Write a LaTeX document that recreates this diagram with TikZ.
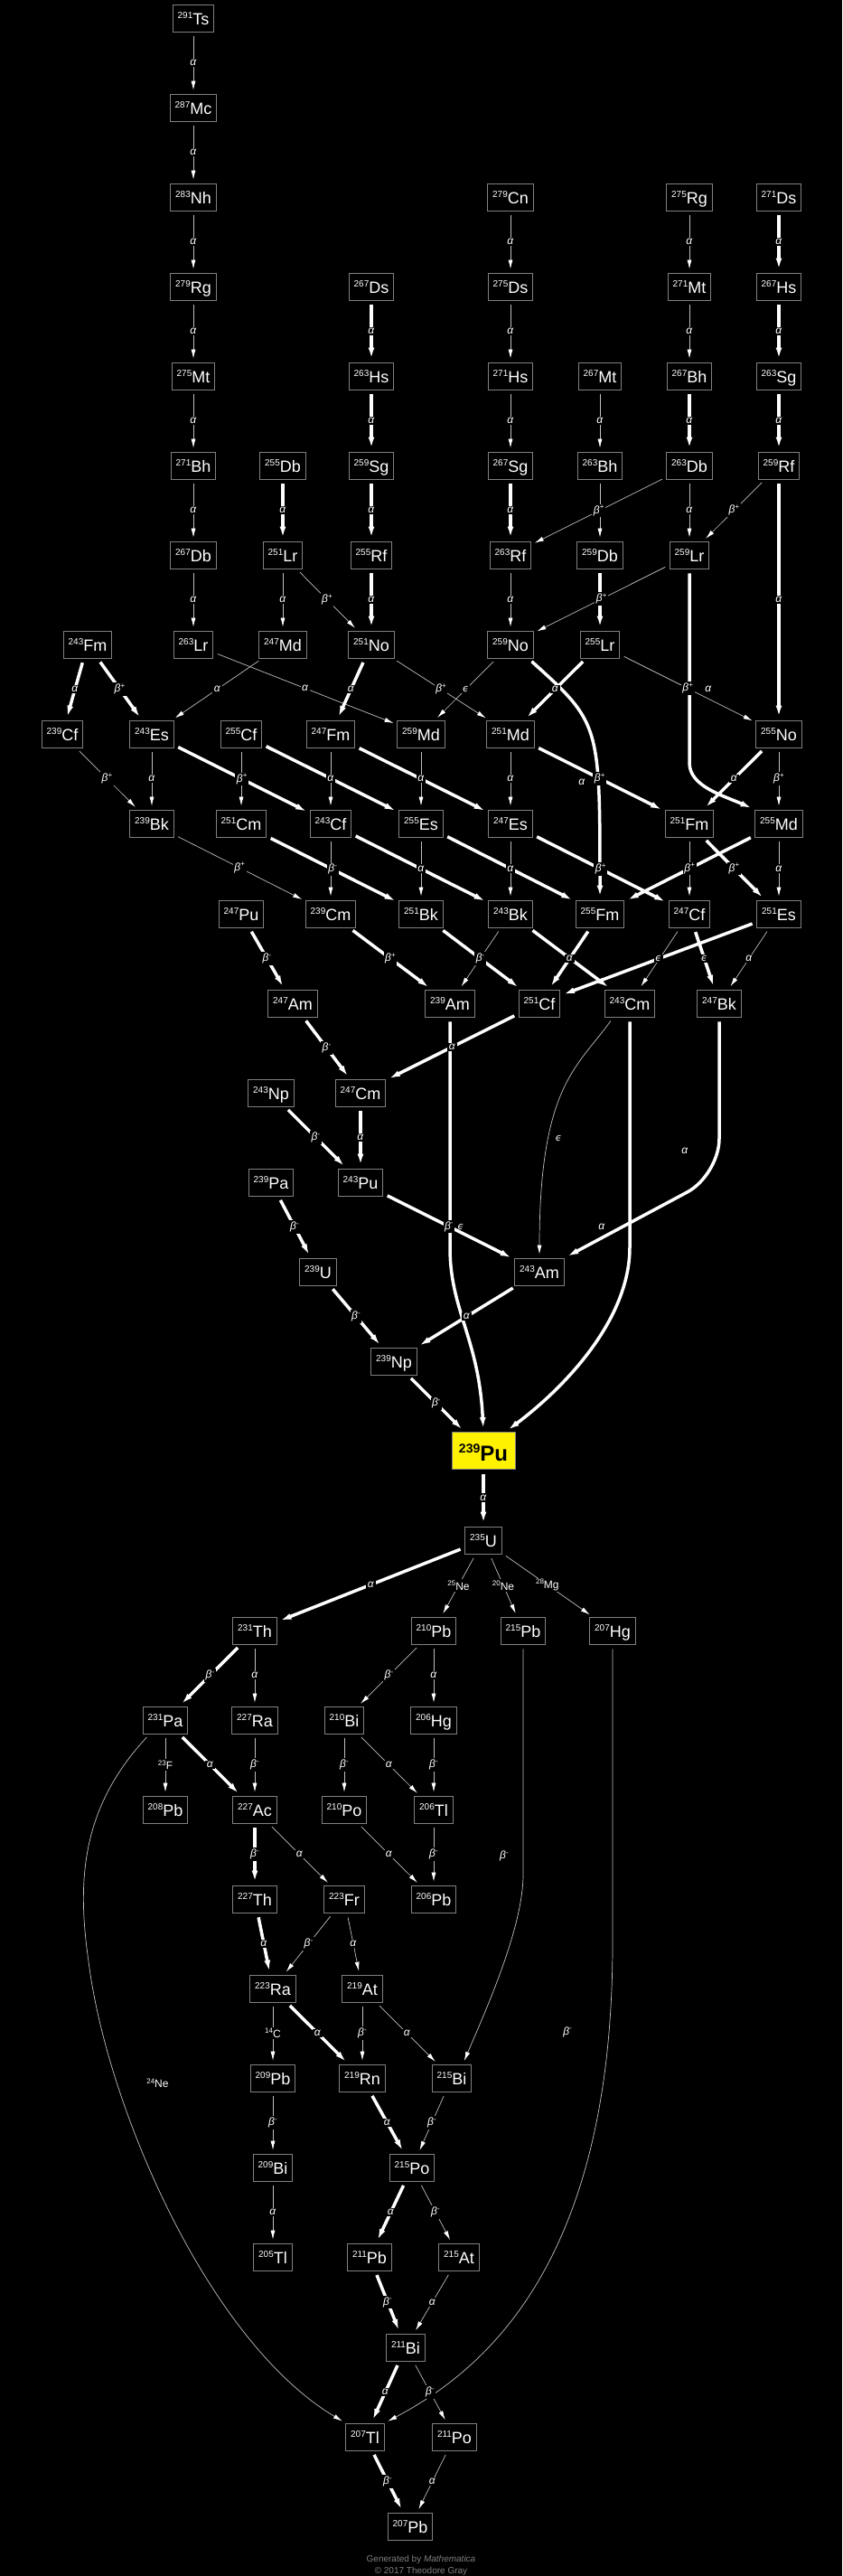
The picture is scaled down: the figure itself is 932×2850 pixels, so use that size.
\documentclass[tikz,border=0pt]{standalone}
\usepackage{fontspec}
\setmainfont{Liberation Sans}
\newfontfamily\dvsans{DejaVu Sans}
\usetikzlibrary{arrows.meta}

\newcommand{\iso}[2]{\raisebox{7.5pt}{\fontsize{10}{10}\selectfont #1}#2}
\newcommand{\emit}[2]{\raisebox{4.5pt}{\fontsize{8}{8}\selectfont #1}#2}
\newcommand{\ald}{\textit{α}}
\newcommand{\bmd}{\textit{β}\raisebox{4.5pt}{\fontsize{8}{8}\selectfont -}}
\newcommand{\bpd}{\textit{β}\raisebox{4.5pt}{\fontsize{8}{8}\selectfont +}}
\newcommand{\ecd}{{\dvsans\itshape\fontsize{11}{11}\selectfont ϵ}}

\begin{document}
\begin{tikzpicture}
  [x=1pt, y=-1pt,
   nuc/.style={draw=gray, fill=black, line width=0.8pt, text=white,
     minimum height=30pt, inner xsep=5.5pt, inner ysep=0pt,
     text height=15.5pt, text depth=0pt, font=\fontsize{18}{18}\selectfont},
   target/.style={draw=gray, fill=yellow, line width=0.8pt, text=black,
     minimum height=41pt, minimum width=70pt, inner ysep=0pt,
     text height=22pt, text depth=0pt, font=\bfseries\fontsize{24}{24}\selectfont},
   lbl/.style={fill=black, text=white, inner sep=1.5pt, font=\fontsize{12}{12}\selectfont},
   minor/.style={draw=white!75!black, line width=0.7pt,
     -{Latex[length=10pt,width=5pt,color=white]}, shorten <=5pt, shorten >=4pt},
   major/.style={draw=white, line width=3.5pt,
     -{Latex[length=12pt,width=7pt]}, shorten <=5pt, shorten >=4pt}]

  \fill[black] (0,0) rectangle (932,2850);
  \useasboundingbox (0,0) rectangle (932,2850);

  % superheavy part
  \node[nuc] (Ts291) at (214,20) {\iso{291}{Ts}};
  \node[nuc] (Mc287) at (214,119) {\iso{287}{Mc}};
  \node[nuc] (Nh283) at (214,218) {\iso{283}{Nh}};
  \node[nuc] (Cn279) at (565,218) {\iso{279}{Cn}};
  \node[nuc] (Rg275) at (763,218) {\iso{275}{Rg}};
  \node[nuc] (Ds271) at (862,218) {\iso{271}{Ds}};

  \node[nuc] (Rg279) at (214,317) {\iso{279}{Rg}};
  \node[nuc] (Ds267) at (411,317) {\iso{267}{Ds}};
  \node[nuc] (Ds275) at (565,317) {\iso{275}{Ds}};
  \node[nuc] (Mt271) at (763,317) {\iso{271}{Mt}};
  \node[nuc] (Hs267) at (862,317) {\iso{267}{Hs}};

  \node[nuc] (Mt275) at (214,416) {\iso{275}{Mt}};
  \node[nuc] (Hs263) at (411,416) {\iso{263}{Hs}};
  \node[nuc] (Hs271) at (565,416) {\iso{271}{Hs}};
  \node[nuc] (Mt267) at (664,416) {\iso{267}{Mt}};
  \node[nuc] (Bh267) at (763,416) {\iso{267}{Bh}};
  \node[nuc] (Sg263) at (862,416) {\iso{263}{Sg}};

  \node[nuc] (Bh271) at (214,515) {\iso{271}{Bh}};
  \node[nuc] (Db255) at (313,515) {\iso{255}{Db}};
  \node[nuc] (Sg259) at (411,515) {\iso{259}{Sg}};
  \node[nuc] (Sg267) at (565,515) {\iso{267}{Sg}};
  \node[nuc] (Bh263) at (664,515) {\iso{263}{Bh}};
  \node[nuc] (Db263) at (763,515) {\iso{263}{Db}};
  \node[nuc] (Rf259) at (862,515) {\iso{259}{Rf}};

  \node[nuc] (Db267) at (214,614) {\iso{267}{Db}};
  \node[nuc] (Lr251) at (313,614) {\iso{251}{Lr}};
  \node[nuc] (Rf255) at (411,614) {\iso{255}{Rf}};
  \node[nuc] (Rf263) at (565,614) {\iso{263}{Rf}};
  \node[nuc] (Db259) at (664,614) {\iso{259}{Db}};
  \node[nuc] (Lr259) at (763,614) {\iso{259}{Lr}};

  \node[nuc] (Fm243) at (97,713) {\iso{243}{Fm}};
  \node[nuc] (Lr263) at (214,713) {\iso{263}{Lr}};
  \node[nuc] (Md247) at (313,713) {\iso{247}{Md}};
  \node[nuc] (No251) at (411,713) {\iso{251}{No}};
  \node[nuc] (No259) at (565,713) {\iso{259}{No}};
  \node[nuc] (Lr255) at (664,713) {\iso{255}{Lr}};

  \node[nuc] (Cf239) at (69,812) {\iso{239}{Cf}};
  \node[nuc] (Es243) at (168,812) {\iso{243}{Es}};
  \node[nuc] (Cf255) at (267,812) {\iso{255}{Cf}};
  \node[nuc] (Fm247) at (366,812) {\iso{247}{Fm}};
  \node[nuc] (Md259) at (466,812) {\iso{259}{Md}};
  \node[nuc] (Md251) at (565,812) {\iso{251}{Md}};
  \node[nuc] (No255) at (862,812) {\iso{255}{No}};

  \node[nuc] (Bk239) at (168,911) {\iso{239}{Bk}};
  \node[nuc] (Cm251) at (267,911) {\iso{251}{Cm}};
  \node[nuc] (Cf243) at (366,911) {\iso{243}{Cf}};
  \node[nuc] (Es255) at (466,911) {\iso{255}{Es}};
  \node[nuc] (Es247) at (565,911) {\iso{247}{Es}};
  \node[nuc] (Fm251) at (763,911) {\iso{251}{Fm}};
  \node[nuc] (Md255) at (862,911) {\iso{255}{Md}};

  \node[nuc] (Pu247) at (267,1011) {\iso{247}{Pu}};
  \node[nuc] (Cm239) at (366,1011) {\iso{239}{Cm}};
  \node[nuc] (Bk251) at (466,1011) {\iso{251}{Bk}};
  \node[nuc] (Bk243) at (565,1011) {\iso{243}{Bk}};
  \node[nuc] (Fm255) at (664,1011) {\iso{255}{Fm}};
  \node[nuc] (Cf247) at (763,1011) {\iso{247}{Cf}};
  \node[nuc] (Es251) at (862,1011) {\iso{251}{Es}};

  \node[nuc] (Am247) at (324,1110) {\iso{247}{Am}};
  \node[nuc] (Am239) at (498,1110) {\iso{239}{Am}};
  \node[nuc] (Cf251) at (597,1110) {\iso{251}{Cf}};
  \node[nuc] (Cm243) at (697,1110) {\iso{243}{Cm}};
  \node[nuc] (Bk247) at (796,1110) {\iso{247}{Bk}};

  \node[nuc] (Np243) at (300,1209) {\iso{243}{Np}};
  \node[nuc] (Cm247) at (399,1209) {\iso{247}{Cm}};
  \node[nuc] (Pa239) at (300,1308) {\iso{239}{Pa}};
  \node[nuc] (Pu243) at (399,1308) {\iso{243}{Pu}};
  \node[nuc] (U239) at (352,1407) {\iso{239}{U}};
  \node[nuc] (Am243) at (597,1407) {\iso{243}{Am}};
  \node[nuc] (Np239) at (436,1506) {\iso{239}{Np}};

  \node[target] (Pu239) at (535,1605)
    {\raisebox{9pt}{\fontsize{14}{14}\selectfont 239}Pu};

  % decay of 235U
  \node[nuc] (U235) at (535,1704) {\iso{235}{U}};

  \node[nuc] (Th231) at (282,1804) {\iso{231}{Th}};
  \node[nuc] (Pb210) at (480,1804) {\iso{210}{Pb}};
  \node[nuc] (Pb215) at (579,1804) {\iso{215}{Pb}};
  \node[nuc] (Hg207) at (678,1804) {\iso{207}{Hg}};

  \node[nuc] (Pa231) at (183,1903) {\iso{231}{Pa}};
  \node[nuc] (Ra227) at (282,1903) {\iso{227}{Ra}};
  \node[nuc] (Bi210) at (381,1903) {\iso{210}{Bi}};
  \node[nuc] (Hg206) at (480,1903) {\iso{206}{Hg}};

  \node[nuc] (Pb208) at (183,2002) {\iso{208}{Pb}};
  \node[nuc] (Ac227) at (282,2002) {\iso{227}{Ac}};
  \node[nuc] (Po210) at (381,2002) {\iso{210}{Po}};
  \node[nuc] (Tl206) at (480,2002) {\iso{206}{Tl}};

  \node[nuc] (Th227) at (282,2101) {\iso{227}{Th}};
  \node[nuc] (Fr223) at (381,2101) {\iso{223}{Fr}};
  \node[nuc] (Pb206) at (480,2101) {\iso{206}{Pb}};

  \node[nuc] (Ra223) at (302,2200) {\iso{223}{Ra}};
  \node[nuc] (At219) at (401,2200) {\iso{219}{At}};

  \node[nuc] (Pb209) at (302,2299) {\iso{209}{Pb}};
  \node[nuc] (Rn219) at (401,2299) {\iso{219}{Rn}};
  \node[nuc] (Bi215) at (500,2299) {\iso{215}{Bi}};

  \node[nuc] (Bi209) at (302,2398) {\iso{209}{Bi}};
  \node[nuc] (Po215) at (456,2398) {\iso{215}{Po}};

  \node[nuc] (Tl205) at (302,2497) {\iso{205}{Tl}};
  \node[nuc] (Pb211) at (409,2497) {\iso{211}{Pb}};
  \node[nuc] (At215) at (508,2497) {\iso{215}{At}};

  \node[nuc] (Bi211) at (449,2597) {\iso{211}{Bi}};
  \node[nuc] (Tl207) at (404,2696) {\iso{207}{Tl}};
  \node[nuc] (Po211) at (503,2696) {\iso{211}{Po}};
  \node[nuc] (Pb207) at (454,2795) {\iso{207}{Pb}};

  % edges whose labels are hidden
  \draw[minor] (Bh263) -- (Db259);
  \draw[major] (Db259) -- (Lr255);
  \draw[minor] (Cf255) -- (Cm251);
  \draw[major] (Cf255) -- (Es255);
  \draw[major] (Fm247) -- (Es247);
  \draw[minor] (Cf243) -- (Cm239);
  \draw[major] (Cf243) -- (Bk243);
  \draw[major] (Es255) -- (Fm255);
  \draw[minor] (Fm251) -- (Cf247);
  \draw[minor] (Bk243) -- (Am239);
  \draw[major] (Bk243) -- (Cm243);
  \draw[minor] (Cf247) -- (Cm243);

  % long bent edges
  \draw[major] (Lr259) -- node[lbl,pos=0.62,xshift=21pt]{\ald} ++(0,230)
    .. controls +(0,26) and (800,880) .. (Md255.north west);
  \draw[major] ([xshift=-6pt]No259.south east) .. controls (664,800) and (664,800)
    .. node[lbl,pos=0.7,xshift=-18pt]{\ald} (Fm255.north);
  \draw[major] (Am239) -- node[lbl,pos=0.91,xshift=12pt]{\ecd} ++(0,270)
    .. controls +(0,70) and (530,1480) .. (Pu239.north);
  \draw[major] (Cm243) -- node[lbl,pos=0.91,xshift=-31pt]{\ald} ++(0,270)
    .. controls +(0,80) and (625,1535) .. ([xshift=-11pt]Pu239.north east);
  \draw[major, rounded corners=40pt] (Bk247)
    -- node[lbl,pos=0.85,xshift=-38pt]{\ald} ++(0,190) -- (Am243.north east);
  \draw[minor] ([xshift=10pt]Cm243.south west) .. controls (640,1180) and (597,1200)
    .. node[lbl,pos=0.7,xshift=11pt]{\ecd} (Am243.north);
  \draw[minor] (Pb215) -- node[lbl,pos=0.92,xshift=-21pt]{\bmd} ++(0,270)
    .. controls +(0,60) and (535,2230) .. ([xshift=-10pt]Bi215.north east);
  \draw[minor] (Hg207) -- ++(0,346) .. controls +(0,350) and (540,2620)
    .. node[lbl,pos=0.1,xshift=-46pt]{\bmd} (Tl207.north east);
  \draw[minor] ([xshift=8pt]Pa231.south west) .. controls (90,2000) and (85,2080)
    .. (98,2170) .. controls (118,2330) and (230,2590)
    .. node[lbl,pos=0.25,xshift=45pt]{\emit{24}{Ne}} (Tl207.north west);

  % superheavy chains
  \draw[minor] (Ts291) -- node[lbl]{\ald} (Mc287);
  \draw[minor] (Mc287) -- node[lbl]{\ald} (Nh283);
  \draw[minor] (Nh283) -- node[lbl]{\ald} (Rg279);
  \draw[minor] (Cn279) -- node[lbl]{\ald} (Ds275);
  \draw[minor] (Rg275) -- node[lbl]{\ald} (Mt271);
  \draw[major] (Ds271) -- node[lbl]{\ald} (Hs267);
  \draw[minor] (Rg279) -- node[lbl]{\ald} (Mt275);
  \draw[major] (Ds267) -- node[lbl]{\ald} (Hs263);
  \draw[minor] (Ds275) -- node[lbl]{\ald} (Hs271);
  \draw[minor] (Mt271) -- node[lbl]{\ald} (Bh267);
  \draw[major] (Hs267) -- node[lbl]{\ald} (Sg263);
  \draw[minor] (Mt275) -- node[lbl]{\ald} (Bh271);
  \draw[major] (Hs263) -- node[lbl]{\ald} (Sg259);
  \draw[minor] (Hs271) -- node[lbl]{\ald} (Sg267);
  \draw[minor] (Mt267) -- node[lbl]{\ald} (Bh263);
  \draw[major] (Bh267) -- node[lbl]{\ald} (Db263);
  \draw[major] (Sg263) -- node[lbl]{\ald} (Rf259);
  \draw[minor] (Bh271) -- node[lbl]{\ald} (Db267);
  \draw[major] (Db255) -- node[lbl]{\ald} (Lr251);
  \draw[major] (Sg259) -- node[lbl]{\ald} (Rf255);
  \draw[major] (Sg267) -- node[lbl]{\ald} (Rf263);
  \draw[minor] (Db263) -- node[lbl]{\bpd} (Rf263);
  \draw[minor] (Db263) -- node[lbl]{\ald} (Lr259);
  \draw[minor] (Rf259) -- node[lbl]{\bpd} (Lr259);
  \draw[minor] (Db267) -- node[lbl]{\ald} (Lr263);
  \draw[minor] (Lr251) -- node[lbl]{\ald} (Md247);
  \draw[minor] (Lr251) -- node[lbl]{\bpd} (No251);
  \draw[major] (Rf255) -- node[lbl]{\ald} (No251);
  \draw[minor] (Rf263) -- node[lbl]{\ald} (No259);
  \draw[minor] (Lr259) -- node[lbl]{\bpd} (No259);
  \draw[major] (Rf259) -- node[lbl]{\ald} (No255);

  \draw[major] (Fm243) -- node[lbl]{\ald} (Cf239);
  \draw[major] (Fm243) -- node[lbl]{\bpd} (Es243);
  \draw[minor] (Md247) -- node[lbl]{\ald} (Es243);
  \draw[minor] (Lr263) -- node[lbl]{\ald} (Md259);
  \draw[major] (No251) -- node[lbl]{\ald} (Fm247);
  \draw[minor] (No251) -- node[lbl]{\bpd} (Md251);
  \draw[minor] (No259) -- node[lbl]{\ecd} (Md259);
  \draw[major] (Lr255) -- node[lbl]{\ald} (Md251);
  \draw[minor] (Lr255) -- node[lbl]{\bpd} (No255);

  \draw[minor] (Cf239) -- node[lbl]{\bpd} (Bk239);
  \draw[minor] (Es243) -- node[lbl]{\ald} (Bk239);
  \draw[major] (Es243) -- node[lbl]{\bpd} (Cf243);
  \draw[minor] (Fm247) -- node[lbl]{\ald} (Cf243);
  \draw[minor] (Md259) -- node[lbl]{\ald} (Es255);
  \draw[minor] (Md251) -- node[lbl]{\ald} (Es247);
  \draw[major] (Md251) -- node[lbl]{\bpd} (Fm251);
  \draw[major] (No255) -- node[lbl]{\ald} (Fm251);
  \draw[minor] (No255) -- node[lbl]{\bpd} (Md255);

  \draw[minor] (Bk239) -- node[lbl]{\bpd} (Cm239);
  \draw[major] (Cm251) -- node[lbl]{\bmd} (Bk251);
  \draw[minor] (Es255) -- node[lbl]{\ald} (Bk251);
  \draw[minor] (Es247) -- node[lbl]{\ald} (Bk243);
  \draw[major] (Es247) -- node[lbl]{\bpd} (Cf247);
  \draw[major] (Md255) -- node[lbl]{\bpd} (Fm255);
  \draw[major] (Fm251) -- node[lbl]{\bpd} (Es251);
  \draw[minor] (Md255) -- node[lbl]{\ald} (Es251);

  \draw[major] (Pu247) -- node[lbl]{\bmd} (Am247);
  \draw[major] (Cm239) -- node[lbl]{\bpd} (Am239);
  \draw[major] (Bk251) -- node[lbl]{\bmd} (Cf251);
  \draw[major] (Fm255) -- node[lbl]{\ald} (Cf251);
  \draw[major] (Es251) -- node[lbl]{\ecd} (Cf251);
  \draw[major] (Cf247) -- node[lbl]{\ecd} (Bk247);
  \draw[minor] (Es251) -- node[lbl]{\ald} (Bk247);

  \draw[major] (Am247) -- node[lbl]{\bmd} (Cm247);
  \draw[major] (Cf251) -- node[lbl]{\ald} (Cm247);
  \draw[major] (Np243) -- node[lbl]{\bmd} (Pu243);
  \draw[major] (Cm247) -- node[lbl]{\ald} (Pu243);
  \draw[major] (Pa239) -- node[lbl]{\bmd} (U239);
  \draw[major] (Pu243) -- node[lbl]{\bmd} (Am243);
  \draw[major] (U239) -- node[lbl]{\bmd} (Np239);
  \draw[major] (Am243) -- node[lbl]{\ald} (Np239);
  \draw[major] (Np239) -- node[lbl]{\bmd} (Pu239);
  \draw[major] (Pu239) -- node[lbl]{\ald} (U235);

  % 235U chain
  \draw[major] (U235) -- node[lbl]{\ald} (Th231);
  \draw[minor] (U235) -- node[lbl]{\emit{25}{Ne}} (Pb210);
  \draw[minor] (U235) -- node[lbl]{\emit{20}{Ne}} (Pb215);
  \draw[minor] (U235) -- node[lbl]{\emit{28}{Mg}} (Hg207);
  \draw[major] (Th231) -- node[lbl]{\bmd} (Pa231);
  \draw[minor] (Th231) -- node[lbl]{\ald} (Ra227);
  \draw[minor] (Pb210) -- node[lbl]{\bmd} (Bi210);
  \draw[minor] (Pb210) -- node[lbl]{\ald} (Hg206);
  \draw[minor] (Pa231) -- node[lbl]{\emit{23}{F}} (Pb208);
  \draw[major] (Pa231) -- node[lbl]{\ald} (Ac227);
  \draw[minor] (Ra227) -- node[lbl]{\bmd} (Ac227);
  \draw[minor] (Bi210) -- node[lbl]{\bmd} (Po210);
  \draw[minor] (Bi210) -- node[lbl]{\ald} (Tl206);
  \draw[minor] (Hg206) -- node[lbl]{\bmd} (Tl206);
  \draw[major] (Ac227) -- node[lbl]{\bmd} (Th227);
  \draw[minor] (Ac227) -- node[lbl]{\ald} (Fr223);
  \draw[minor] (Po210) -- node[lbl]{\ald} (Pb206);
  \draw[minor] (Tl206) -- node[lbl]{\bmd} (Pb206);
  \draw[major] (Th227) -- node[lbl]{\ald} (Ra223);
  \draw[minor] (Fr223) -- node[lbl]{\bmd} (Ra223);
  \draw[minor] (Fr223) -- node[lbl]{\ald} (At219);
  \draw[minor] (Ra223) -- node[lbl]{\emit{14}{C}} (Pb209);
  \draw[major] (Ra223) -- node[lbl]{\ald} (Rn219);
  \draw[minor] (At219) -- node[lbl]{\bmd} (Rn219);
  \draw[minor] (At219) -- node[lbl]{\ald} (Bi215);
  \draw[minor] (Pb209) -- node[lbl]{\bmd} (Bi209);
  \draw[major] (Rn219) -- node[lbl]{\ald} (Po215);
  \draw[minor] (Bi215) -- node[lbl]{\bmd} (Po215);
  \draw[minor] (Bi209) -- node[lbl]{\ald} (Tl205);
  \draw[major] (Po215) -- node[lbl]{\ald} (Pb211);
  \draw[minor] (Po215) -- node[lbl]{\bmd} (At215);
  \draw[major] (Pb211) -- node[lbl]{\bmd} (Bi211);
  \draw[minor] (At215) -- node[lbl]{\ald} (Bi211);
  \draw[major] (Bi211) -- node[lbl]{\ald} (Tl207);
  \draw[minor] (Bi211) -- node[lbl]{\bmd} (Po211);
  \draw[major] (Tl207) -- node[lbl]{\bmd} (Pb207);
  \draw[minor] (Po211) -- node[lbl]{\ald} (Pb207);

  \node[text=gray, font=\fontsize{10}{10}\selectfont, anchor=base] (gen) at (466,2834)
    {Generated by \textit{Mathematica}};
  \node[text=gray, font=\fontsize{10}{10}\selectfont, anchor=base] (copy) at (466,2847)
    {© 2017 Theodore Gray};
\end{tikzpicture}
\end{document}
